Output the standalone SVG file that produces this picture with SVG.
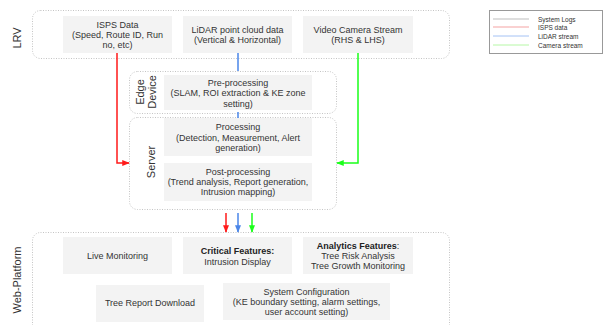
<svg xmlns="http://www.w3.org/2000/svg" width="604" height="325" viewBox="0 0 604 325">
<style>
.cont{fill:none;stroke:#c4c4c4;stroke-width:1;stroke-dasharray:1,1.5}
.box{fill:#f3f3f3}
text{font-family:"Liberation Sans",Arial,sans-serif;fill:#333}
.t{font-size:9px;text-anchor:middle;dominant-baseline:central}
.b{font-weight:bold;fill:#222}
.lab{font-size:11px;text-anchor:middle;dominant-baseline:central}
.lg{font-size:6.5px;dominant-baseline:central}
</style>
<defs>
<marker id="ar" viewBox="0 0 10 10" refX="9" refY="5" markerWidth="5" markerHeight="5" orient="auto" markerUnits="strokeWidth"><path d="M0,1 L10,5 L0,9 z" fill="#ff1a1a"/></marker>
<marker id="ab" viewBox="0 0 10 10" refX="9" refY="5" markerWidth="5" markerHeight="5" orient="auto" markerUnits="strokeWidth"><path d="M0,1 L10,5 L0,9 z" fill="#4a86e8"/></marker>
<marker id="ag" viewBox="0 0 10 10" refX="9" refY="5" markerWidth="5" markerHeight="5" orient="auto" markerUnits="strokeWidth"><path d="M0,1 L10,5 L0,9 z" fill="#1aff1a"/></marker>
</defs>
<rect width="604" height="325" fill="#fff"/>

<g id="lrv">
<rect class="cont" x="32.5" y="10.5" width="417" height="48" rx="8"/>
<text class="lab" transform="translate(17,38) rotate(-90)">LRV</text>
</g>
<g id="edge">
<rect class="cont" x="129.5" y="71.5" width="207" height="42" rx="8"/>
<text class="lab" transform="translate(146,92) rotate(-90)"><tspan x="0" dy="-6">Edge</tspan><tspan x="0" dy="12">Device</tspan></text>
</g>
<g id="server">
<rect class="cont" x="129.5" y="117.5" width="207" height="92" rx="8"/>
<text class="lab" transform="translate(151,162) rotate(-90)">Server</text>
</g>
<g id="web">
<rect class="cont" x="32.5" y="232.5" width="417" height="105" rx="8"/>
<text class="lab" transform="translate(17,280) rotate(-90)">Web-Platform</text>
</g>

<g id="isps"><rect class="box" x="63" y="16" width="109" height="37"/>
<text class="t"><tspan x="117.5" y="25">ISPS Data</tspan><tspan x="117.5" y="35">(Speed, Route ID, Run</tspan><tspan x="117.5" y="45">no, etc)</tspan></text></g>
<g id="lidar"><rect class="box" x="183" y="16" width="109" height="37"/>
<text class="t"><tspan x="237.5" y="30">LiDAR point cloud data</tspan><tspan x="237.5" y="40">(Vertical &amp; Horizontal)</tspan></text></g>
<g id="video"><rect class="box" x="303" y="16" width="110" height="37"/>
<text class="t"><tspan x="358" y="30">Video Camera Stream</tspan><tspan x="358" y="40">(RHS &amp; LHS)</tspan></text></g>
<g id="pre"><rect class="box" x="164" y="75" width="148" height="35"/>
<text class="t"><tspan x="238" y="83">Pre-processing</tspan><tspan x="238" y="93">(SLAM, ROI extraction &amp; KE zone</tspan><tspan x="238" y="104">setting)</tspan></text></g>
<g id="proc"><rect class="box" x="164" y="118" width="148" height="38"/>
<text class="t"><tspan x="238" y="127">Processing</tspan><tspan x="238" y="138">(Detection, Measurement, Alert</tspan><tspan x="238" y="148">generation)</tspan></text></g>
<g id="post"><rect class="box" x="164" y="163" width="148" height="38"/>
<text class="t"><tspan x="238" y="172">Post-processing</tspan><tspan x="238" y="182">(Trend analysis, Report generation,</tspan><tspan x="238" y="192">Intrusion mapping)</tspan></text></g>
<g id="live"><rect class="box" x="63" y="237" width="109" height="37"/>
<text class="t" x="117.5" y="256">Live Monitoring</text></g>
<g id="critical"><rect class="box" x="183" y="237" width="109" height="37"/>
<text class="t"><tspan class="b" x="237.5" y="251">Critical Features:</tspan><tspan x="237.5" y="262">Intrusion Display</tspan></text></g>
<g id="analytics"><rect class="box" x="303" y="237" width="110" height="37"/>
<text class="t"><tspan class="b" x="358" y="246">Analytics Features</tspan><tspan>:</tspan><tspan x="358" y="256">Tree Risk Analysis</tspan><tspan x="358" y="266">Tree Growth Monitoring</tspan></text></g>
<g id="report"><rect class="box" x="96" y="285" width="108" height="37"/>
<text class="t" x="150" y="303">Tree Report Download</text></g>
<g id="config"><rect class="box" x="223" y="283" width="167" height="37"/>
<text class="t"><tspan x="306.5" y="292">System Configuration</tspan><tspan x="306.5" y="302">(KE boundary setting, alarm settings,</tspan><tspan x="306.5" y="312">user account setting)</tspan></text></g>

<g id="connectors" fill="none" stroke-width="1.5">
<path d="M117,53 V163 H129" stroke="#ff1a1a" marker-end="url(#ar)"/>
<path d="M358,53 V163 H337" stroke="#1aff1a" marker-end="url(#ag)"/>
<path d="M238,53 V71" stroke="#4a86e8"/>
<path d="M238,112 V118" stroke="#4a86e8"/>
<path d="M226,213 V232" stroke="#ff1a1a" marker-end="url(#ar)"/>
<path d="M238,213 V232" stroke="#4a86e8" marker-end="url(#ab)"/>
<path d="M252,213 V232" stroke="#1aff1a" marker-end="url(#ag)"/>
</g>

<g id="legend">
<rect x="489.5" y="10.5" width="113" height="43" fill="#fff" stroke="#999" stroke-width="1"/>
<line x1="493" y1="19" x2="529" y2="19" stroke="#bdbdbd"/>
<line x1="493" y1="27" x2="529" y2="27" stroke="#f4a3a3"/>
<line x1="493" y1="36" x2="529" y2="36" stroke="#a4c2f4"/>
<line x1="493" y1="45" x2="529" y2="45" stroke="#b6f7a6"/>
<text class="lg" x="538" y="19">System Logs</text>
<text class="lg" x="538" y="27">ISPS data</text>
<text class="lg" x="538" y="36">LiDAR stream</text>
<text class="lg" x="538" y="45">Camera stream</text>
</g>
</svg>
